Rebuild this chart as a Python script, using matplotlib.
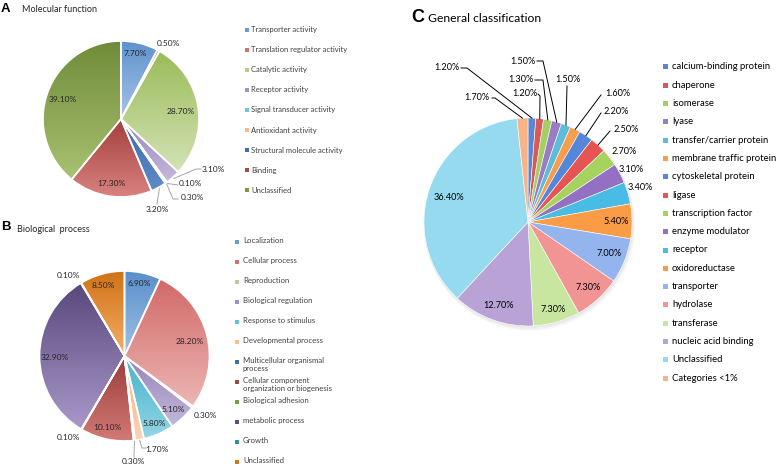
import numpy as np
import matplotlib
matplotlib.use("Agg")
import matplotlib.pyplot as plt
from matplotlib.colors import LinearSegmentedColormap
from matplotlib.patches import Rectangle

# ---------------- data ----------------
mf_labels = ["Transporter activity", "Translation regulator activity", "Catalytic activity",
             "Receptor activity", "Signal transducer activity", "Antioxidant activity",
             "Structural molecule activity", "Binding", "Unclassified"]
mf_values = [7.7, 0.5, 28.7, 3.1, 0.1, 0.3, 3.2, 17.3, 39.1]

bp_labels = ["Localization", "Cellular process", "Reproduction", "Biological regulation",
             "Response to stimulus", "Developmental process",
             "Multicellular organismal\nprocess", "Cellular component\norganization or biogenesis",
             "Biological adhesion", "metabolic process", "Growth", "Unclassified"]
bp_values = [6.9, 28.2, 0.3, 5.1, 5.8, 1.7, 0.3, 10.1, 0.1, 32.9, 0.1, 8.5]

gc_labels = ["calcium-binding protein", "chaperone", "isomerase", "lyase",
             "transfer/carrier protein", "membrane traffic protein", "cytoskeletal protein",
             "ligase", "transcription factor", "enzyme modulator", "receptor",
             "oxidoreductase", "transporter", "hydrolase", "transferase",
             "nucleic acid binding", "Unclassified", "Categories <1%"]
gc_values = [1.2, 1.2, 1.3, 1.5, 1.5, 1.6, 2.2, 2.5, 2.7, 3.1, 3.4, 5.4, 7.0, 7.3, 7.3,
             12.7, 36.4, 1.7]

# ---------------- styles ----------------
mf_top = ['#5F92CE', '#C0504D', '#9BBB59', '#9584BA', '#4BACC6', '#F79646',
          '#3A6AA8', '#A33F3D', '#6F8B38']
mf_bot = ['#A7C4E6', '#D88A88', '#D3E3B6', '#C6BADC', '#8FD0E0', '#FAC090',
          '#5E8CC8', '#D98280', '#A9C172']
mf_leg = ['#6A9BD4', '#D07070', '#B4CC88', '#A092C4', '#70C4D8', '#F8B888',
          '#4070A8', '#A84848', '#789848']

bp_top = ['#5A8FCB', '#D26866', '#9BBB59', '#9383B8', '#44B2CA', '#F7AE7C',
          '#2C5C94', '#9A3D3B', '#76923C', '#58477A', '#31859C', '#CF7216']
bp_bot = ['#A0C0E6', '#ECB6B4', '#C8DCA0', '#C4B8DA', '#92D6E6', '#FBD3B4',
          '#5080B8', '#D27A76', '#A0B870', '#AA98CA', '#60A8BC', '#F5AE66']
bp_leg = ['#6A9BD0', '#D07070', '#B8CC98', '#A090C0', '#60C0D8', '#F8C090',
          '#4070A8', '#A04848', '#78A040', '#604C80', '#3090A8', '#D07818']

gc_colors = ['#5A86D2', '#D85A58', '#A6CE62', '#9A7CC4', '#5EBCDA', '#F79E4E',
             '#5486DA', '#E65454', '#A6D35E', '#9470C4', '#48BCE4', '#FA9C46',
             '#94B4EE', '#F29494', '#C8E6A0', '#B8A2D6', '#96DAF0', '#F8B484']

W, H = 778, 466
fig = plt.figure(figsize=(W / 100, H / 100), dpi=100)
ax = fig.add_axes([0, 0, 1, 1])

FONT = 'Lato'


def P(x, y):
    """pixel (from top-left) -> data coords"""
    return x, H - y


def edge_point(values, i, cx, cy, r, k=1.0):
    tot = float(sum(values))
    mid = (sum(values[:i]) + values[i] / 2.0) / tot * 360.0
    th = np.deg2rad(mid)
    return cx + k * r * np.sin(th), cy - k * r * np.cos(th)


def draw_pie(values, cx, cy, r, tops, bots=None, lw=1.2, gradient=True):
    wedges, _ = ax.pie(values, startangle=90, counterclock=False, colors=tops,
                       center=P(cx, cy), radius=r,
                       wedgeprops=dict(edgecolor='white', linewidth=lw), frame=True)
    if gradient:
        grad = np.linspace(0, 1, 256).reshape(-1, 1)
        for w, ct, cb in zip(wedges, tops, bots):
            ext = w.get_path().get_extents(w.get_patch_transform())
            cm = LinearSegmentedColormap.from_list('g', [ct, cb])
            im = ax.imshow(grad, extent=[ext.x0, ext.x1, ext.y0, ext.y1], cmap=cm,
                           origin='upper', aspect='auto', interpolation='bilinear',
                           zorder=0.5)
            im.set_clip_path(w)
            w.set_facecolor('none')
            w.set_zorder(1)
    return wedges


def labels_on(values, pos, size, color):
    for v, (x, y) in zip(values, pos):
        ax.text(*P(x, y), f"{v:.2f}%", fontsize=size, color=color, family=FONT,
                ha='center', va='center')


def leaders(values, centre, spec, color, k, lw, edge_last=True):
    for i, pts in spec.items():
        ex, ey = edge_point(values, i, *centre, k=k)
        xs = [p[0] for p in pts] + [ex]
        ys = [H - p[1] for p in pts] + [H - ey]
        ax.plot(xs, ys, color=color, lw=lw, zorder=3)


# ---------------- panel A ----------------
A_c = (121, 119, 78)
draw_pie(mf_values, *A_c, mf_top, mf_bot)
A_pos = [(135, 53), (168, 43), (181, 111), (213, 169), (190, 184), (192, 198),
         (157, 209), (111, 184), (63, 99)]
labels_on(mf_values, A_pos, 6.0, '#262626')
A_lead = {3: [(201, 169), (196, 169)], 4: [(178, 185)], 5: [(178, 199), (173, 199)],
          6: [(157, 204)]}
leaders(mf_values, A_c, A_lead, '#A6A6A6', 1.02, 0.7)

ax.text(*P(1, 9), 'A', fontsize=9.5, fontweight='bold', family='Liberation Sans',
        ha='left', va='center')
ax.text(*P(22, 10), 'Molecular function', fontsize=6.5, family=FONT, color='#262626',
        ha='left', va='center')
for i, (lab, c) in enumerate(zip(mf_labels, mf_leg)):
    y = 29.5 + i * 20.1
    ax.add_patch(Rectangle(P(247 - 2, y + 2), 4, 4, facecolor=c, edgecolor='none'))
    ax.text(*P(251.5, y), lab, fontsize=5.5, color='#404040', family=FONT,
            ha='left', va='center')

# ---------------- panel B ----------------
B_c = (124.5, 356, 85)
draw_pie(bp_values, *B_c, bp_top, bp_bot)
B_pos = [(139, 284), (190, 342), (205, 415), (173, 409), (154, 423), (157, 449),
         (133, 462), (107, 428), (68, 438), (55, 358), (68, 275), (103, 285)]
labels_on(bp_values, B_pos, 6.0, '#262626')
B_lead = {5: [(146, 448), (142, 448)], 6: [(134, 457)]}
leaders(bp_values, B_c, B_lead, '#A6A6A6', 1.01, 0.7)

ax.text(*P(1, 227), 'B', fontsize=9.5, fontweight='bold', family='Liberation Sans',
        ha='left', va='center')
ax.text(*P(17, 229), 'Biological  process', fontsize=6.5, family=FONT, color='#262626',
        ha='left', va='center')
for i, (lab, c) in enumerate(zip(bp_labels, bp_leg)):
    y = 242 + i * 20
    ax.add_patch(Rectangle(P(237 - 2, y + 2), 4, 4, facecolor=c, edgecolor='none'))
    ax.text(*P(243, y - 4.8), lab, fontsize=5.6, color='#404040', family=FONT,
            ha='left', va='top', linespacing=1.2)

# ---------------- panel C ----------------
C_c = (528, 222, 104)
for k, a in [(3.0, 0.05), (2.0, 0.07), (1.0, 0.08)]:
    ax.add_patch(plt.Circle(P(C_c[0] + k * 0.5, C_c[1] + k), C_c[2] + k * 0.6,
                            color='#808080', alpha=a, lw=0, zorder=0.2))
draw_pie(gc_values, *C_c, gc_colors, lw=0.4, gradient=False)
C_pos = [(447, 67), (525, 94), (521, 80), (523, 61), (567.5, 80), (617.5, 94),
         (616, 112), (626, 130), (624, 151), (631, 169), (640, 188), (616, 222),
         (609, 253), (588, 287), (553, 309), (499, 305), (449, 197), (477, 98)]
labels_on(gc_values, C_pos, 6.6, 'black')
C_lead = {0: [(461, 68), (467, 68)], 1: [(538, 94), (540, 96)],
          2: [(535, 80), (543, 80)], 3: [(537, 61), (543, 61)],
          4: [(567, 86)], 5: [(601, 95)], 6: [(601, 113)],
          7: [(610, 131)], 17: [(492, 98), (495, 98)]}
leaders(gc_values, C_c, C_lead, 'black', 1.0, 0.7)

ax.text(*P(411, 18), 'C', fontsize=13, fontweight='bold', family='Liberation Sans',
        ha='left', va='center')
ax.text(*P(428, 19), 'General classification', fontsize=8.7, family=FONT, color='black',
        ha='left', va='center')
for i, (lab, c) in enumerate(zip(gc_labels, gc_colors)):
    y = 66.7 + i * 18.33
    ax.add_patch(Rectangle(P(666 - 2.5, y + 2.5), 5, 5, facecolor=c, edgecolor='none'))
    ax.text(*P(672, y), lab, fontsize=6.8, color='black', family=FONT,
            ha='left', va='center')

ax.set_xlim(0, W)
ax.set_ylim(0, H)
ax.set_aspect('auto')
ax.axis('off')
fig.savefig('out.png', dpi=100)
